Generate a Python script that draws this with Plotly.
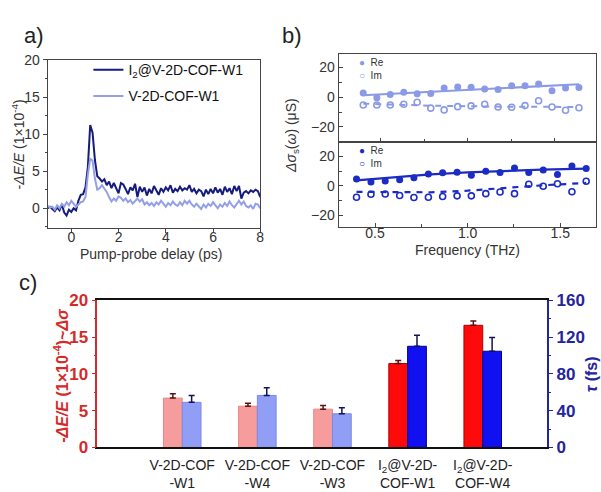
import numpy as np
import plotly.graph_objects as go

W, H = 601, 492

def fx(px):
    return px / W

def fy(py):
    return 1 - py / H

# ---------------- Panel a data ----------------
delay_ps = np.round(np.arange(-1.0, 8.0001, 0.1), 1)
i2_w1_dEE = [0.0, 0.2, -0.1, -0.4, 0.1, -0.3, 0.5, -0.6, -1.0, -0.2,
             -0.5, 0.0, -0.3, 1.0, 1.8, 1.9, 2.8, 5.5, 11.2, 10.2,
             6.5, 4.3, 4.0, 3.6, 3.9, 3.1, 3.6, 2.7, 3.4, 2.6,
             2.0, 3.4, 3.2, 2.6, 1.9, 2.8, 2.4, 3.3, 1.5, 2.9,
             2.2, 2.8, 1.7, 2.6, 2.0, 3.0, 2.3, 1.8, 2.7, 2.2,
             2.8, 2.4, 3.1, 2.1, 2.6, 2.3, 2.9, 2.4, 2.7, 2.5,
             3.1, 2.2, 2.6, 2.0, 2.5, 2.3, 1.6, 2.5, 1.9, 2.6,
             2.0, 2.8, 2.1, 2.6, 1.8, 2.9, 2.2, 2.7, 1.9, 3.0,
             2.3, 3.0, 1.3, 2.1, 2.3, 2.0, 2.4, 2.2, 2.5, 2.3, 1.5]
v_w1_dEE = [0.3, 0.1, 0.2, -0.2, 0.4, 0.0, 0.6, 0.2, 0.8, 0.4,
            1.0, 0.6, 0.2, 0.5, 0.8, 0.9, 1.5, 4.5, 6.7, 6.4,
            4.0, 2.5, 2.7, 3.1, 2.6, 2.2, 1.5, 0.9, 1.3, 1.0,
            1.6, 1.4, 1.0, 1.3, 0.8, 1.1, 0.6, 1.0, 1.3, 0.9,
            1.2, 0.5, 0.8, 0.4, 0.7, 0.3, 0.8, 0.5, 1.0, 0.6,
            0.2, 0.7, 0.4, 0.9, 0.5, 0.3, 0.8, 0.4, 1.0, 0.6,
            1.0, 0.5, 0.2, 0.6, 0.3, -0.1, 0.5, 0.1, 0.6, 0.3,
            0.8, 0.4, 0.0, 0.5, 0.2, 0.7, 0.3, 0.9, 0.4, 0.1,
            0.6, 1.0, 0.5, 0.9, 0.3, 0.1, 0.4, -0.1, 0.6, 0.5, 0.0]

# ---------------- Panel b data ----------------
freq_thz = [0.40, 0.478, 0.555, 0.633, 0.71, 0.788, 0.865, 0.943, 1.02,
            1.098, 1.175, 1.253, 1.33, 1.408, 1.485, 1.563, 1.64]
v_re = [2.8, -0.5, 1.8, 3.3, 2.2, 2.4, 6.1, 6.8, 6.6, 5.5, 5.1, 7.7, 7.7, 8.8, 4.2, 6.1, 6.4]
v_im = [-5.3, -5.3, -5.3, -4.8, -3.5, -7.4, -8.6, -6.4, -5.9, -4.8, -6.6, -6.8, -5.7, -2.4, -6.6, -8.8, -7.1]
v_re_fit_freq = [0.40, 1.64]
v_re_fit = [1.3, 8.6]
v_im_fit_freq = [0.40, 0.8, 1.2, 1.64]
v_im_fit = [-4.4, -5.8, -6.4, -6.6]

i2_re = [4.7, 2.6, 3.4, 4.1, 5.6, 8.0, 8.9, 9.3, 7.3, 9.9, 9.1, 12.1, 9.1, 10.8, 7.8, 13.4, 11.7]
i2_im = [-7.6, -5.6, -5.4, -6.5, -7.8, -7.6, -7.1, -6.7, -6.7, -5.2, -4.1, -5.2, 1.1, -0.2, 1.5, -3.9, 3.2]
i2_fit_freq = [0.40, 0.6, 0.8, 1.0, 1.2, 1.4, 1.64]
i2_re_fit = [3.7, 5.8, 7.8, 9.1, 10.2, 11.0, 11.7]
i2_im_fit_freq = [0.40, 0.8, 1.0, 1.2, 1.4, 1.64]
i2_im_fit = [-4.0, -4.3, -3.2, -1.2, 0.4, 2.0]

# ---------------- Panel c data ----------------
samples = ["V-2D-COF<br>-W1", "V-2D-COF<br>-W4", "V-2D-COF<br>-W3",
           "I<sub>2</sub>@V-2D-<br>COF-W1", "I<sub>2</sub>@V-2D-<br>COF-W4"]
dEE_vals = [6.7, 5.6, 5.2, 11.4, 16.6]
dEE_err = [0.6, 0.4, 0.5, 0.4, 0.6]
tau_fs = [49, 56.5, 36.6, 110, 104.6]
tau_err = [7.5, 8.5, 6.5, 12, 15]

# colours
NAVY = "#161C7C"
PERI = "#93A0E8"
B_LIGHT = "#8B9AE6"
B_DARK = "#1B2BC4"
RED_AX = "#D42A2A"
BLUE_AX = "#24249E"
pink_red = ["#F79C9C", "#F79C9C", "#F79C9C", "#FF0A0A", "#FF0A0A"]
lblue_blue = ["#909EF5", "#909EF5", "#909EF5", "#1010F0", "#1010F0"]
pink_red_edge = ["#E88888", "#E88888", "#E88888", "#B00000", "#B00000"]
lblue_blue_edge = ["#7C8AE6", "#7C8AE6", "#7C8AE6", "#000090", "#000090"]

FONT = "Arial, Liberation Sans, sans-serif"

fig = go.Figure()

# Panel a traces
fig.add_trace(go.Scatter(x=delay_ps, y=i2_w1_dEE, mode="lines",
                         line=dict(color=NAVY, width=2),
                         name="I<sub>2</sub>@V-2D-COF-W1", legendgroup="g1",
                         xaxis="x", yaxis="y"))
fig.add_trace(go.Scatter(x=delay_ps, y=v_w1_dEE, mode="lines",
                         line=dict(color=PERI, width=2),
                         name="V-2D-COF-W1", legendgroup="g2",
                         xaxis="x", yaxis="y"))

# Panel b top (V-2D-COF-W1)
fig.add_trace(go.Scatter(x=v_re_fit_freq, y=v_re_fit, mode="lines",
                         line=dict(color=B_LIGHT, width=2), showlegend=False,
                         xaxis="x2", yaxis="y2"))
fig.add_trace(go.Scatter(x=v_im_fit_freq, y=v_im_fit, mode="lines",
                         line=dict(color=B_LIGHT, width=2, dash="6px,6px"), showlegend=False,
                         xaxis="x2", yaxis="y2"))
fig.add_trace(go.Scatter(x=freq_thz, y=v_re, mode="markers", name="Re",
                         marker=dict(color=B_LIGHT, size=7, symbol="circle"),
                         showlegend=False, xaxis="x2", yaxis="y2"))
fig.add_trace(go.Scatter(x=freq_thz, y=v_im, mode="markers", name="Im",
                         marker=dict(color=B_LIGHT, size=6, symbol="circle-open",
                                     line=dict(width=1.6, color=B_LIGHT)),
                         showlegend=False, xaxis="x2", yaxis="y2"))

# Panel b bottom (I2@V-2D-COF-W1)
fig.add_trace(go.Scatter(x=i2_fit_freq, y=i2_re_fit, mode="lines",
                         line=dict(color=B_DARK, width=2.2), showlegend=False,
                         xaxis="x3", yaxis="y3"))
fig.add_trace(go.Scatter(x=i2_im_fit_freq, y=i2_im_fit, mode="lines",
                         line=dict(color=B_DARK, width=2.2, dash="6px,6px"), showlegend=False,
                         xaxis="x3", yaxis="y3"))
fig.add_trace(go.Scatter(x=freq_thz, y=i2_re, mode="markers", name="Re",
                         marker=dict(color=B_DARK, size=7, symbol="circle"),
                         showlegend=False, xaxis="x3", yaxis="y3"))
fig.add_trace(go.Scatter(x=freq_thz, y=i2_im, mode="markers", name="Im",
                         marker=dict(color=B_DARK, size=6, symbol="circle-open",
                                     line=dict(width=1.6, color=B_DARK)),
                         showlegend=False, xaxis="x3", yaxis="y3"))

# Panel c bars
fig.add_trace(go.Bar(x=samples, y=dEE_vals, width=0.25, offset=-0.25,
                     marker=dict(color=pink_red, line=dict(color=pink_red_edge, width=1)),
                     error_y=dict(type="data", symmetric=False, array=dEE_err,
                                  arrayminus=[0] * len(dEE_err), color="#5A1212",
                                  thickness=1.5, width=3),
                     showlegend=False, xaxis="x4", yaxis="y4"))
fig.add_trace(go.Bar(x=samples, y=tau_fs, width=0.25, offset=0.0,
                     marker=dict(color=lblue_blue, line=dict(color=lblue_blue_edge, width=1)),
                     error_y=dict(type="data", symmetric=False, array=tau_err,
                                  arrayminus=[0] * len(tau_err), color="#12125A",
                                  thickness=1.5, width=3),
                     showlegend=False, xaxis="x4", yaxis="y5"))

frame = dict(showline=True, mirror=True, linecolor="#444", linewidth=1.3,
             showgrid=False, zeroline=False)
tickf = dict(family=FONT, size=14, color="#333")

fig.update_layout(
    width=W, height=H,
    margin=dict(l=0, r=0, t=0, b=0),
    paper_bgcolor="white", plot_bgcolor="white",
    font=dict(family=FONT, color="#333"),
    barmode="overlay",
    # panel a
    xaxis=dict(domain=[fx(48), fx(262)], range=[-1, 8], anchor="y",
               tickvals=[0, 2, 4, 6, 8], ticks="outside", ticklen=4, tickcolor="#444",
               ticklabelstandoff=-8, tickfont=tickf, **frame),
    yaxis=dict(domain=[fy(228), fy(53)], range=[-2.7, 20], anchor="x",
               tickvals=[0, 5, 10, 15, 20], ticks="outside", ticklen=4, tickcolor="#444",
               minor=dict(dtick=2.5, tick0=0, ticks="outside", ticklen=2, tickcolor="#444"),
               tickfont=tickf, **frame),
    # panel b top
    xaxis2=dict(domain=[fx(341), fx(600)], range=[0.259, 1.738], anchor="y2",
                tickvals=[0.5, 1.0, 1.5], showticklabels=False, ticks="inside", ticklen=4,
                tickcolor="#444",
                minor=dict(dtick=0.25, tick0=0.25, ticks="inside", ticklen=3, tickcolor="#444"),
                **frame),
    yaxis2=dict(domain=[fy(138), fy(47)], range=[-29.9, 28.8], anchor="x2",
                tickvals=[-20, 0, 20], ticks="inside", ticklen=4, tickcolor="#444",
                minor=dict(dtick=10, tick0=0, ticks="inside", ticklen=3, tickcolor="#444"),
                tickfont=tickf, **frame),
    # panel b bottom
    xaxis3=dict(domain=[fx(341), fx(600)], range=[0.304, 1.693], anchor="y3",
                tickvals=[0.5, 1.0, 1.5], ticktext=["0.5", "1.0", "1.5"],
                ticks="inside", ticklen=4, tickcolor="#444", ticklabelstandoff=-7,
                minor=dict(dtick=0.25, tick0=0.25, ticks="inside", ticklen=3, tickcolor="#444"),
                tickfont=tickf, **frame),
    yaxis3=dict(domain=[fy(227), fy(138)], range=[-27.9, 29.9], anchor="x3",
                tickvals=[-20, 0, 20], ticks="inside", ticklen=4, tickcolor="#444",
                minor=dict(dtick=10, tick0=0, ticks="inside", ticklen=3, tickcolor="#444"),
                tickfont=tickf, **frame),
    # panel c
    xaxis4=dict(domain=[fx(98), fx(551)], type="category", range=[-1.13, 4.86],
                anchor="y4", showline=True, mirror=True, linecolor="#111", linewidth=1.5,
                ticks="", showgrid=False, zeroline=False, ticklabelstandoff=4,
                tickfont=dict(family=FONT, size=14, color="#222")),
    yaxis4=dict(domain=[fy(456), fy(303)], range=[0, 20], anchor="x4",
                tickvals=[0, 5, 10, 15, 20], ticks="outside", ticklen=4, tickcolor=RED_AX,
                minor=dict(dtick=2.5, tick0=0, ticks="outside", ticklen=2, tickcolor=RED_AX),
                showline=True, linecolor=RED_AX, linewidth=1.5, showgrid=False, zeroline=False,
                tickfont=dict(family=FONT, size=17, color=RED_AX, weight="bold")),
    yaxis5=dict(range=[0, 160], overlaying="y4", side="right", anchor="x4",
                tickvals=[0, 40, 80, 120, 160], ticks="outside", ticklen=4, tickcolor=BLUE_AX,
                minor=dict(dtick=20, tick0=0, ticks="outside", ticklen=2, tickcolor=BLUE_AX),
                showline=True, linecolor=BLUE_AX, linewidth=1.5, showgrid=False, zeroline=False,
                tickfont=dict(family=FONT, size=17, color=BLUE_AX, weight="bold")),
    legend=dict(x=fx(89), y=fy(47), xanchor="left", yanchor="top",
                bgcolor="rgba(0,0,0,0)", tracegroupgap=5,
                font=dict(family=FONT, size=14, color="#111")),
)

ann = []
# panel labels
ann.append(dict(text="a)", x=fx(34), y=fy(28), font=dict(size=22, color="#222")))
ann.append(dict(text="b)", x=fx(294), y=fy(28), font=dict(size=22, color="#222")))
ann.append(dict(text="c)", x=fx(28), y=fy(284), font=dict(size=22, color="#222")))
# panel a titles
ann.append(dict(text="-<i>ΔE/E</i> (1×10<sup>-4</sup>)", x=fx(18), y=fy(141), textangle=-90,
                font=dict(size=14, color="#333")))
ann.append(dict(text="Pump-probe delay (ps)", x=fx(152), y=fy(255),
                font=dict(size=14, color="#333")))
# panel b titles
ann.append(dict(text="<i>Δσ</i><sub>s</sub>(<i>ω</i>) (μS)", x=fx(294), y=fy(132), textangle=-90,
                font=dict(size=14, color="#333")))
ann.append(dict(text="Frequency (THz)", x=fx(471), y=fy(251),
                font=dict(size=14, color="#333")))
# panel b legends
ann.append(dict(text=(f"<span style='color:{B_LIGHT}'>●</span>  Re<br>"
                      f"<span style='color:{B_LIGHT}'>○</span>  Im"),
                x=fx(359), y=fy(62.5), xanchor="left", align="left",
                font=dict(size=10, color="#333")))
ann.append(dict(text=(f"<span style='color:{B_DARK}'>●</span>  Re<br>"
                      f"<span style='color:{B_DARK}'>○</span>  Im"),
                x=fx(359), y=fy(154), xanchor="left", align="left",
                font=dict(size=10, color="#333")))
# panel c axis titles
ann.append(dict(text="<b>-<i>ΔE/E</i> (1×10<sup>-4</sup>)~<i>Δσ</i></b>", x=fx(62), y=fy(381),
                textangle=-90, font=dict(size=16, color=RED_AX)))
ann.append(dict(text="<b><i>τ</i> (fs)</b>", x=fx(595), y=fy(380),
                textangle=-90, font=dict(size=16, color=BLUE_AX)))

for a in ann:
    a.setdefault("xref", "paper")
    a.setdefault("yref", "paper")
    a.setdefault("showarrow", False)
    a.setdefault("xanchor", "center")
    a.setdefault("yanchor", "middle")
    a["font"].setdefault("family", FONT)
fig.update_layout(annotations=ann)

fig.write_html("out.html", config={"displayModeBar": False},
               post_script="document.body.style.margin='0';document.body.style.overflow='hidden';")
